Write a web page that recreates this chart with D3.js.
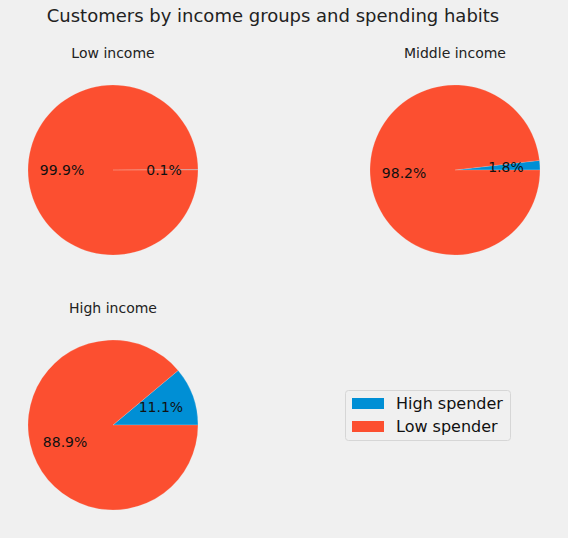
<!DOCTYPE html>
<html>
<head>
<meta charset="utf-8">
<script src="https://cdn.jsdelivr.net/npm/d3@7"></script>
<style>
  body { margin: 0; background: #f0f0f0; }
  svg { display: block; font-family: "DejaVu Sans", sans-serif; }
</style>
</head>
<body>
<div id="chart"></div>
<script>
// Data (percent of customers)
const groups = ["Low income", "Middle income", "High income"];
const spenders = ["High spender", "Low spender"];
const highSpender = [0.1, 1.8, 11.1];
const lowSpender = [99.9, 98.2, 88.9];
const colors = ["#008fd5", "#fc4f30"];

const width = 568;
const height = 538;
const radius = 85;

// pie centres, like a 2x2 subplot grid
const cols = d3.scaleOrdinal().domain([0, 1]).range([113, 455]);
const rows = d3.scaleOrdinal().domain([0, 1]).range([170, 425]);

const svg = d3.select("#chart")
    .append("svg")
    .attr("width", width)
    .attr("height", height);

svg.append("rect")
    .attr("width", width)
    .attr("height", height)
    .attr("fill", "#f0f0f0");

svg.append("text")
    .attr("x", 273)
    .attr("y", 22)
    .attr("text-anchor", "middle")
    .attr("font-size", 18)
    .attr("fill", "#222")
    .text("Customers by income groups and spending habits");

const color = d3.scaleOrdinal().domain(spenders).range(colors);

// matplotlib style: start at 3 o'clock, counter-clockwise
const pie = d3.pie()
    .sort(null)
    .value(d => d.value)
    .startAngle(Math.PI / 2)
    .endAngle(Math.PI / 2 - 2 * Math.PI);

const arc = d3.arc().innerRadius(0).outerRadius(radius);
const labelArc = d3.arc().innerRadius(radius * 0.6).outerRadius(radius * 0.6);

groups.forEach((g, i) => {
    const cx = cols(i % 2);
    const cy = rows(Math.floor(i / 2));
    const data = [
        { name: spenders[0], value: highSpender[i] },
        { name: spenders[1], value: lowSpender[i] }
    ];
    const total = d3.sum(data, d => d.value);

    const gp = svg.append("g")
        .attr("transform", `translate(${cx},${cy})`);

    gp.append("text")
        .attr("x", 0)
        .attr("y", -radius - 27)
        .attr("text-anchor", "middle")
        .attr("font-size", 14)
        .attr("fill", "#222")
        .text(g);

    const arcs = pie(data);

    gp.selectAll("path")
        .data(arcs)
        .enter()
        .append("path")
        .attr("d", arc)
        .attr("fill", d => color(d.data.name))
        .attr("stroke", "#f0f0f0")
        .attr("stroke-width", 0.3)
        .attr("stroke-opacity", 0.6);

    gp.selectAll("text.pct")
        .data(arcs)
        .enter()
        .append("text")
        .attr("class", "pct")
        .attr("transform", d => `translate(${labelArc.centroid(d)})`)
        .attr("text-anchor", "middle")
        .attr("dy", "0.35em")
        .attr("font-size", 14)
        .attr("fill", "#111")
        .text(d => (d.data.value / total * 100).toFixed(1) + "%");
});

// Legend
const legend = svg.append("g")
    .attr("transform", "translate(345.5,390.5)");

legend.append("rect")
    .attr("width", 165)
    .attr("height", 50)
    .attr("rx", 3)
    .attr("fill", "#f0f0f0")
    .attr("stroke", "#d6d6d6");

spenders.forEach((s, i) => {
    legend.append("rect")
        .attr("x", 6.5)
        .attr("y", 7.5 + i * 23)
        .attr("width", 32)
        .attr("height", 11)
        .attr("fill", color(s));
    legend.append("text")
        .attr("x", 50.5)
        .attr("y", 13 + i * 23)
        .attr("dy", "0.35em")
        .attr("font-size", 16)
        .attr("fill", "#111")
        .text(s);
});
</script>
</body>
</html>
